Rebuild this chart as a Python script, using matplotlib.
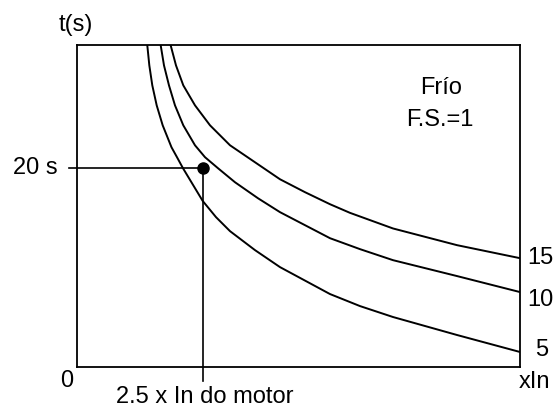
import matplotlib
matplotlib.use("Agg")
import matplotlib.pyplot as plt

plt.rcParams["font.family"] = ["Liberation Sans", "DejaVu Sans"]

# curves: x in multiples of In, y in seconds
x_5 = [1.395, 1.435, 1.494, 1.581, 1.700, 1.875, 1.984, 2.103, 2.494, 2.758,
       3.036, 3.532, 4.028, 5.020, 5.615, 6.270, 7.540, 8.79]
y_5 = [32.36, 30.35, 28.34, 26.33, 24.32, 22.11, 21.11, 20.00, 16.71, 15.08,
       13.67, 11.76, 10.05, 7.34, 6.13, 5.03, 3.22, 1.51]

x_10 = [1.661, 1.726, 1.825, 1.944, 2.109, 2.341, 2.540, 2.798, 3.135, 3.591,
        4.028, 5.020, 5.615, 6.270, 7.540, 8.79]
y_10 = [32.36, 30.35, 28.34, 26.33, 24.32, 22.31, 21.11, 20.00, 18.59, 16.98,
        15.58, 12.96, 11.86, 10.75, 9.15, 7.54]

x_15 = [1.859, 1.964, 2.109, 2.341, 2.639, 3.036, 3.532, 4.028, 4.524, 5.020,
        5.417, 6.270, 7.540, 8.79]
y_15 = [32.36, 30.35, 28.34, 26.33, 24.32, 22.31, 20.60, 18.89, 17.59, 16.38,
        15.51, 13.94, 12.26, 10.95]

curve_labels = ["5", "10", "15"]
point_x, point_y = 2.5, 20.0

XMAX, YMAX = 8.79, 32.4


def px(x, y):
    # pixel position -> figure fraction
    return x / 554, 1 - y / 408


fig = plt.figure(figsize=(5.54, 4.08), dpi=100)
ax = fig.add_axes([77 / 554, 41 / 408, 443 / 554, 322 / 408])

for xs, ys in [(x_5, y_5), (x_10, y_10), (x_15, y_15)]:
    ax.plot(xs, ys, color="black", lw=1.4, solid_joinstyle="round")

# reference point 2.5 x In / 20 s
ax.plot([-0.16, point_x], [point_y, point_y], color="black", lw=1.2, clip_on=False)
ax.plot([point_x, point_x], [point_y, -1.4], color="black", lw=1.2, clip_on=False)
ax.plot(point_x, point_y, "o", color="black", ms=8, clip_on=False)

ax.set_xlim(0, XMAX)
ax.set_ylim(0, YMAX)
ax.set_xticks([])
ax.set_yticks([])
for s in ax.spines.values():
    s.set_linewidth(1.3)

fs = 17
fig.text(*px(76, 25), "t(s)", fontsize=fs, ha="center", va="center")
fig.text(*px(58, 168), "20 s", fontsize=fs, ha="right", va="center")
fig.text(*px(67, 381), "0", fontsize=fs, ha="center", va="center")
fig.text(*px(205, 397), "2.5 x In do motor", fontsize=fs, ha="center", va="center")
fig.text(*px(519, 382), "xIn", fontsize=fs, ha="left", va="center")
fig.text(*px(441, 88), "Frío", fontsize=fs, ha="center", va="center")
fig.text(*px(440, 120), "F.S.=1", fontsize=fs, ha="center", va="center")

for lab, (lx, ly) in zip(curve_labels, [(535, 350), (527, 300), (527, 258)]):
    fig.text(*px(lx, ly), lab, fontsize=fs, ha="left", va="center")

fig.savefig("out.png", dpi=100)
